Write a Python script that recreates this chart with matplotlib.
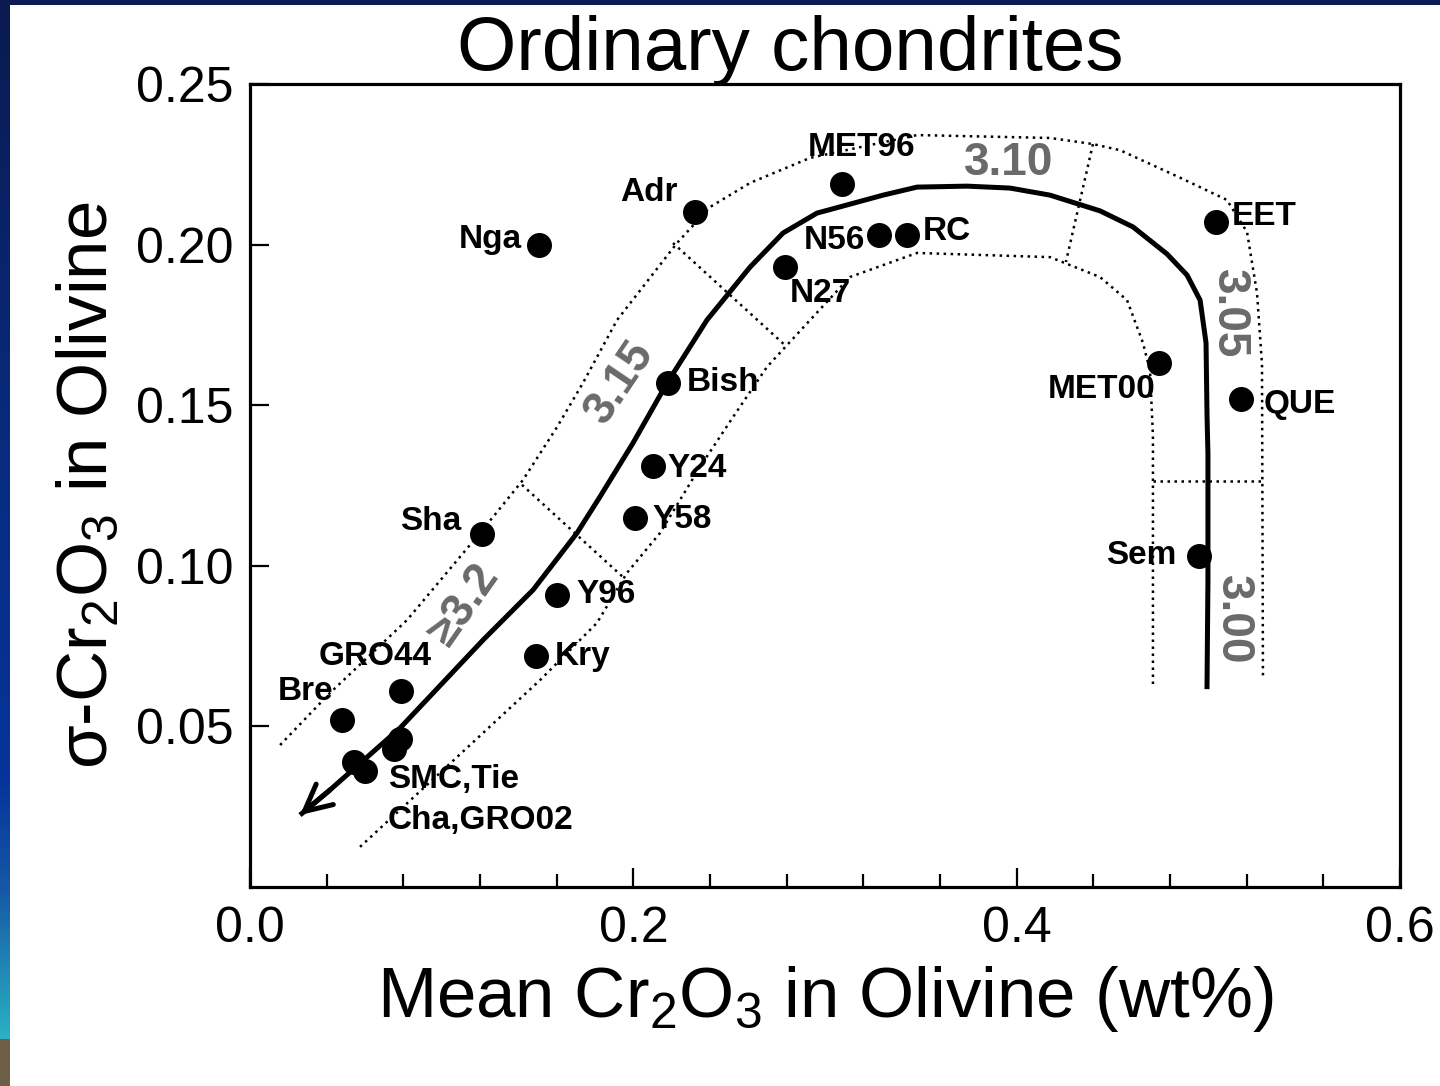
import numpy as np
import matplotlib
matplotlib.use("Agg")
import matplotlib.pyplot as plt
from matplotlib.patches import Rectangle
from matplotlib.colors import LinearSegmentedColormap

plt.rcParams['font.family'] = ['Liberation Sans', 'DejaVu Sans']
plt.rcParams['mathtext.fontset'] = 'custom'
plt.rcParams['mathtext.rm'] = 'Liberation Sans'
plt.rcParams['mathtext.it'] = 'Liberation Sans:italic'
plt.rcParams['mathtext.bf'] = 'Liberation Sans:bold'

# ---- chondrite measurements: mean Cr2O3 and its standard deviation (wt%) ----
names = ["Nga", "Adr", "MET96", "N56", "RC", "N27", "EET", "MET00", "QUE", "Sem",
         "Bish", "Y24", "Y58", "Sha", "Y96", "Kry", "GRO44", "Bre",
         "SMC", "Tie", "Cha", "GRO02"]
mean_cr = [0.151, 0.232, 0.309, 0.328, 0.343, 0.279, 0.504, 0.474, 0.517, 0.495,
           0.218, 0.210, 0.201, 0.121, 0.160, 0.149, 0.079, 0.048,
           0.078, 0.075, 0.054, 0.060]
sigma_cr = [0.200, 0.210, 0.219, 0.203, 0.203, 0.193, 0.207, 0.163, 0.152, 0.103,
            0.157, 0.131, 0.115, 0.110, 0.091, 0.072, 0.061, 0.052,
            0.046, 0.043, 0.039, 0.036]

# ---- metamorphic trend (thick line) ----
trend_x = [0.0261, 0.0417, 0.0783, 0.1216, 0.1477, 0.1706, 0.1826, 0.1998, 0.2176, 0.2384,
           0.2609, 0.2781, 0.2958, 0.3303, 0.3480, 0.3741, 0.3965, 0.4174, 0.4435,
           0.4607, 0.4784, 0.4889, 0.4957, 0.4988, 0.4993, 0.4998, 0.4998, 0.4993]
trend_y = [0.0224, 0.0302, 0.0495, 0.0769, 0.0925, 0.1102, 0.1215, 0.1382, 0.1569, 0.1765,
           0.1930, 0.2036, 0.2098, 0.2154, 0.2179, 0.2182, 0.2176, 0.2154, 0.2105,
           0.2055, 0.1971, 0.1905, 0.1827, 0.1694, 0.1473, 0.1348, 0.0959, 0.0616]

# ---- envelope around the trend (dotted) ----
upper_x = [0.0157, 0.0417, 0.0819, 0.1200, 0.1424, 0.1602, 0.1737, 0.1915, 0.2228,
           0.2400, 0.2609, 0.2922, 0.3480, 0.4174, 0.4398, 0.4539, 0.4868, 0.5097,
           0.5202, 0.5254, 0.5280, 0.5285]
upper_y = [0.0442, 0.0604, 0.0831, 0.1102, 0.1267, 0.1432, 0.1569, 0.1765, 0.2005,
           0.2117, 0.2192, 0.2270, 0.2341, 0.2332, 0.2313, 0.2294, 0.2204, 0.2139,
           0.2039, 0.1849, 0.1628, 0.0648]
lower_x = [0.0574, 0.1148, 0.1513, 0.1810, 0.1967, 0.2139, 0.2348, 0.2520, 0.2697,
           0.2922, 0.3130, 0.3480, 0.4174, 0.4435, 0.4576, 0.4659, 0.4696, 0.4711,
           0.4711]
lower_y = [0.0125, 0.0442, 0.0644, 0.0822, 0.0978, 0.1102, 0.1308, 0.1463, 0.1619,
           0.1765, 0.1899, 0.1974, 0.1961, 0.1899, 0.1827, 0.1694, 0.1606, 0.1404,
           0.0626]

# ---- petrologic subtype boundaries across the envelope ----
divider_x = [(0.1419, 0.1946), (0.2207, 0.2791), (0.4398, 0.4257), (0.4711, 0.5285)]
divider_y = [(0.1252, 0.0965), (0.2005, 0.1687), (0.2313, 0.1946), (0.1264, 0.1264)]

subtype_labels = ["\u22653.2", "3.15", "3.10", "3.05", "3.00"]
subtype_x = [0.112, 0.193, 0.396, 0.511, 0.513]
subtype_y = [0.0878, 0.1570, 0.2254, 0.1786, 0.0832]

PX = 0.72  # pixel -> point at 100 dpi

fig = plt.figure(figsize=(14.4, 10.86), dpi=100)
fig.patch.set_facecolor('white')

# slide decoration: dark bar on top, gradient strip on the left
fig.patches.append(Rectangle((0, 1 - 5 / 1086), 1, 5 / 1086, transform=fig.transFigure,
                             facecolor='#0b1a50', edgecolor='none', zorder=0))
strip = fig.add_axes([0, 0, 10 / 1440, 1])
cmap = LinearSegmentedColormap.from_list("slide", [
    (0.00, (10 / 255, 26 / 255, 80 / 255)),
    (0.45, (8 / 255, 45 / 255, 130 / 255)),
    (0.72, (5 / 255, 52 / 255, 155 / 255)),
    (0.82, (22 / 255, 88 / 255, 165 / 255)),
    (0.9599, (42 / 255, 178 / 255, 196 / 255)),
    (0.96, (110 / 255, 95 / 255, 70 / 255)),
    (1.00, (110 / 255, 95 / 255, 70 / 255))])
strip.imshow(np.linspace(0, 1, 1086).reshape(-1, 1), aspect='auto', cmap=cmap,
             extent=(0, 1, 1, 0))
strip.set_axis_off()

ax = fig.add_axes([250 / 1440, (1086 - 887) / 1086, 1150 / 1440, 803 / 1086])
ax.set_xlim(0, 0.6)
ax.set_ylim(0, 0.25)

dot = dict(color='black', lw=1.8, linestyle=(0, (1, 1.8)), dash_capstyle='butt')
ax.plot(upper_x, upper_y, **dot)
ax.plot(lower_x, lower_y, **dot)
for dx, dy in zip(divider_x, divider_y):
    ax.plot(dx, dy, **dot)

ax.plot(trend_x, trend_y, color='black', lw=3.6, solid_capstyle='butt',
        solid_joinstyle='round')
ax.annotate('', xy=(trend_x[0], trend_y[0]), xytext=(trend_x[1], trend_y[1]),
            arrowprops=dict(arrowstyle='->,head_length=1.2,head_width=0.6',
                            lw=3.6, color='black', shrinkA=0, shrinkB=0,
                            mutation_scale=16))

ax.scatter(mean_cr, sigma_cr, s=18 ** 2, color='black', zorder=5, linewidths=0)

# label offsets in pixels (dx, dy) and alignment
label_pos = {
    "Nga": (-18, 5, 'right'), "Adr": (-17, 20, 'right'), "MET96": (19, 36, 'center'),
    "N56": (-14, -6, 'right'), "RC": (15, 3, 'left'), "N27": (5, -26, 'left'),
    "EET": (16, 6, 'left'), "MET00": (-3, -26, 'right'), "QUE": (23, -6, 'left'),
    "Sem": (-22, 1, 'right'), "Bish": (19, 0, 'left'), "Y24": (15, -2, 'left'),
    "Y58": (17, -2, 'left'), "Sha": (-21, 12, 'right'), "Y96": (20, 0, 'left'),
    "Kry": (19, -1, 'left'), "GRO44": (-26, 35, 'center'), "Bre": (-9, 28, 'right'),
    "GRO02": (23, -8, 'left'),
}
for name, x, y in zip(names, mean_cr, sigma_cr):
    if name not in label_pos:
        continue
    dx, dy, ha = label_pos[name]
    text = "SMC,Tie" if name == "GRO02" else name
    ax.annotate(text, (x, y), xytext=(dx * PX, dy * PX), textcoords='offset points',
                ha=ha, va='center', fontsize=24, fontweight='bold', zorder=6)
i = names.index("GRO02")
ax.annotate("Cha,GRO02", (mean_cr[i], sigma_cr[i]), xytext=(23 * PX, -49 * PX),
            textcoords='offset points', ha='left', va='center', fontsize=24,
            fontweight='bold', zorder=6)

rotations = [55, 56, 0, 270, 270]
for lab, x, y, r in zip(subtype_labels, subtype_x, subtype_y, rotations):
    ax.text(x, y, lab, rotation=r, ha='center', va='center', fontsize=33,
            fontweight='bold', color='#6a6a6a', rotation_mode='anchor', zorder=4)

# axes styling
for sp in ax.spines.values():
    sp.set_linewidth(2.3)
ax.set_xticks([0.0, 0.2, 0.4, 0.6])
ax.set_xticklabels(["0.0", "0.2", "0.4", "0.6"])
ax.set_xticks(np.arange(0.04, 0.6, 0.04), minor=True)
ax.set_yticks([0.05, 0.10, 0.15, 0.20, 0.25])
ax.set_yticklabels(["0.05", "0.10", "0.15", "0.20", "0.25"])
ax.tick_params(axis='both', which='major', direction='in', length=14, width=1.6,
               labelsize=36, pad=12)
ax.tick_params(axis='x', which='minor', direction='in', length=9.5, width=1.6)
ax.tick_params(axis='x', which='major', pad=14)
ax.tick_params(axis='y', which='minor', left=False)

ax.set_xlabel(r'Mean Cr$_{\mathregular{2}}$O$_{\mathregular{3}}$ in Olivine (wt%)',
              fontsize=51, labelpad=8)
ax.set_ylabel('\u03c3-Cr$_{\\mathregular{2}}$O$_{\\mathregular{3}}$ in Olivine',
              fontsize=51, labelpad=10)
fig.text(790 / 1440, 1 - 50 / 1086, "Ordinary chondrites", ha='center', va='center',
         fontsize=55)

fig.savefig("out.png", dpi=100)
